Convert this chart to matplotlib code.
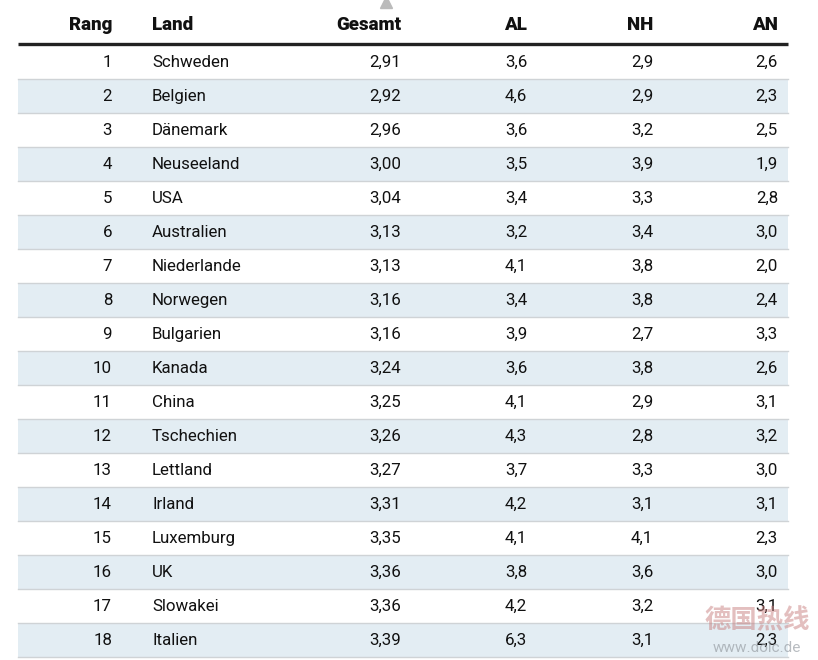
"""Ranking table (Rang / Land / Gesamt / AL / NH / AN) drawn with matplotlib."""

import matplotlib.pyplot as plt
from matplotlib.patches import Rectangle

rang = list(range(1, 19))
land = ["Schweden", "Belgien", "Dänemark", "Neuseeland", "USA", "Australien",
        "Niederlande", "Norwegen", "Bulgarien", "Kanada", "China", "Tschechien",
        "Lettland", "Irland", "Luxemburg", "UK", "Slowakei", "Italien"]
gesamt = [2.91, 2.92, 2.96, 3.00, 3.04, 3.13, 3.13, 3.16, 3.16, 3.24, 3.25,
          3.26, 3.27, 3.31, 3.35, 3.36, 3.36, 3.39]
al = [3.6, 4.6, 3.6, 3.5, 3.4, 3.2, 4.1, 3.4, 3.9, 3.6, 4.1, 4.3, 3.7, 4.2,
      4.1, 3.8, 4.2, 6.3]
nh = [2.9, 2.9, 3.2, 3.9, 3.3, 3.4, 3.8, 3.8, 2.7, 3.8, 2.9, 2.8, 3.3, 3.1,
      4.1, 3.6, 3.2, 3.1]
an = [2.6, 2.3, 2.5, 1.9, 2.8, 3.0, 2.0, 2.4, 3.3, 2.6, 3.1, 3.2, 3.0, 3.1,
      2.3, 3.0, 3.1, 2.3]
headers = ["Rang", "Land", "Gesamt", "AL", "NH", "AN"]


def de(v, nd):
    # German decimal comma
    return f"{v:.{nd}f}".replace(".", ",")


W, H = 818, 660
fig = plt.figure(figsize=(W / 100, H / 100), dpi=100)
ax = fig.add_axes([0, 0, 1, 1])
ax.set_xlim(0, W)
ax.set_ylim(H, 0)
ax.axis("off")

plt.rcParams["font.family"] = ["Roboto", "DejaVu Sans"]

left, right = 18, 788
top, row_h = 45, 34
# x anchor and alignment for each column
cols = [(112, "right"), (152, "left"), (401, "right"),
        (527, "right"), (653, "right"), (778, "right")]
band = "#e3edf3"
fs = 12.2

for (x, ha), h in zip(cols, headers):
    ax.text(x, 25.5, h, ha=ha, va="center", fontsize=13.5, fontweight="heavy",
            color="#111111")
ax.plot([left, right], [43.5, 43.5], color="#222222", lw=2.4,
        solid_capstyle="butt")

for i in range(len(rang)):
    y0 = top + i * row_h
    if i % 2 == 1:
        ax.add_patch(Rectangle((left, y0), right - left, row_h,
                               facecolor=band, edgecolor="none", zorder=0))
    ax.plot([left, right], [y0 + row_h, y0 + row_h], color="#cfd3d6", lw=1)
    cy = y0 + row_h / 2 + 0.5
    vals = [str(rang[i]), land[i], de(gesamt[i], 2), de(al[i], 1),
            de(nh[i], 1), de(an[i], 1)]
    for (x, ha), v in zip(cols, vals):
        ax.text(x, cy, v, ha=ha, va="center", fontsize=fs, color="#111111")

# small grey marker at the top edge
ax.plot([386], [2], marker="^", markersize=9, color="#bbbbbb", clip_on=False)

# watermark (overlaps the last rows as in the source image)
ax.text(757, 621, "德国热线", ha="center", va="center", fontsize=19,
        fontweight="bold", family=["Noto Sans CJK SC", "DejaVu Sans"],
        color="#c98080", alpha=0.5)
ax.text(757, 648, "www.dolc.de", ha="center", va="center", fontsize=11,
        color="#9aa0a6", alpha=0.7)

fig.savefig("out.png", dpi=100)
